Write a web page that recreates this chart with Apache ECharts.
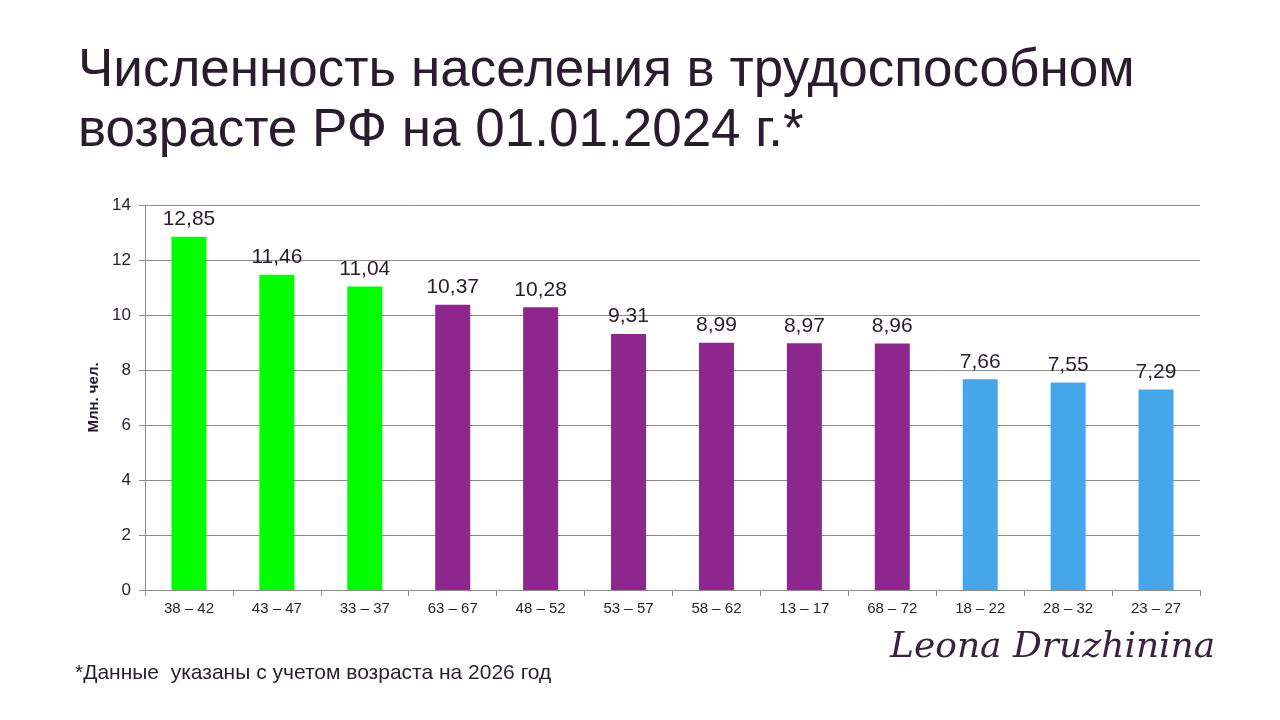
<!DOCTYPE html>
<html>
<head>
<meta charset="utf-8">
<script src="https://cdn.jsdelivr.net/npm/echarts@6/dist/echarts.min.js"></script>
<style>
  html, body { margin: 0; padding: 0; background: #fff; }
  #myChart { width: 1280px; height: 720px; }
</style>
</head>
<body>
<div id="myChart"></div>
<script>
// возрастные группы и численность, млн чел.
var ageGroups = ["38 – 42", "43 – 47", "33 – 37", "63 – 67", "48 – 52", "53 – 57",
                 "58 – 62", "13 – 17", "68 – 72", "18 – 22", "28 – 32", "23 – 27"];
var population = [12.85, 11.46, 11.04, 10.37, 10.28, 9.31, 8.99, 8.97, 8.96, 7.66, 7.55, 7.29];
var barColors = ["#00ff00", "#00ff00", "#00ff00", "#8e278d", "#8e278d", "#8e278d",
                 "#8e278d", "#8e278d", "#8e278d", "#46a6ea", "#46a6ea", "#46a6ea"];
var yTicks = [0, 2, 4, 6, 8, 10, 12, 14];

document.addEventListener("DOMContentLoaded", function () {
  var myChart = echarts.init(document.getElementById("myChart"));
  var textColor = "#2b1b2e";

  var option = {
    backgroundColor: "#ffffff",
    animation: false,
    title: {
      text: "Численность населения в трудоспособном\nвозрасте РФ на 01.01.2024 г.*",
      left: 73,
      top: 36,
      textStyle: {
        fontFamily: "Liberation Sans",
        fontWeight: "normal",
        fontSize: 53,
        lineHeight: 60,
        color: textColor,
      },
    },
    grid: { left: 145, right: 80, top: 205, bottom: 130 },
    xAxis: {
      type: "category",
      data: ageGroups,
      axisLine: { lineStyle: { color: "#8c8c8c" } },
      axisTick: { show: true, length: 6, lineStyle: { color: "#8c8c8c" } },
      axisLabel: { fontFamily: "Liberation Sans", fontSize: 15, color: textColor, margin: 11 },
    },
    yAxis: {
      type: "value",
      min: yTicks[0],
      max: yTicks[yTicks.length - 1],
      interval: 2,
      name: "Млн. чел.",
      nameLocation: "middle",
      nameGap: 41,
      nameTextStyle: { fontFamily: "Liberation Sans", fontSize: 15, fontWeight: "bold", color: textColor },
      axisLine: { show: true, lineStyle: { color: "#8c8c8c" } },
      axisTick: { show: true, length: 6, lineStyle: { color: "#8c8c8c" } },
      axisLabel: { fontFamily: "Liberation Sans", fontSize: 17, color: textColor, margin: 14 },
      splitLine: { lineStyle: { color: "#8c8c8c" } },
    },
    series: [
      {
        type: "bar",
        barWidth: 35,
        data: population.map(function (v, i) {
          return { value: v, itemStyle: { color: barColors[i] } };
        }),
        label: {
          show: true,
          position: "top",
          distance: 7,
          fontFamily: "Liberation Sans",
          fontSize: 21,
          color: textColor,
          formatter: function (p) {
            return p.value.toFixed(2).replace(".", ",");
          },
        },
      },
    ],
    graphic: [
      {
        type: "text",
        left: 75,
        top: 663,
        style: {
          text: "*Данные  указаны с учетом возраста на 2026 год",
          font: "21px 'Liberation Sans'",
          fill: textColor,
        },
      },
      {
        type: "text",
        left: 890,
        top: 630,
        style: {
          text: "Leona Druzhinina",
          font: "italic 36px 'DejaVu Serif'",
          fill: "#3b2140",
        },
      },
    ],
  };

  myChart.setOption(option);
});
</script>
</body>
</html>
